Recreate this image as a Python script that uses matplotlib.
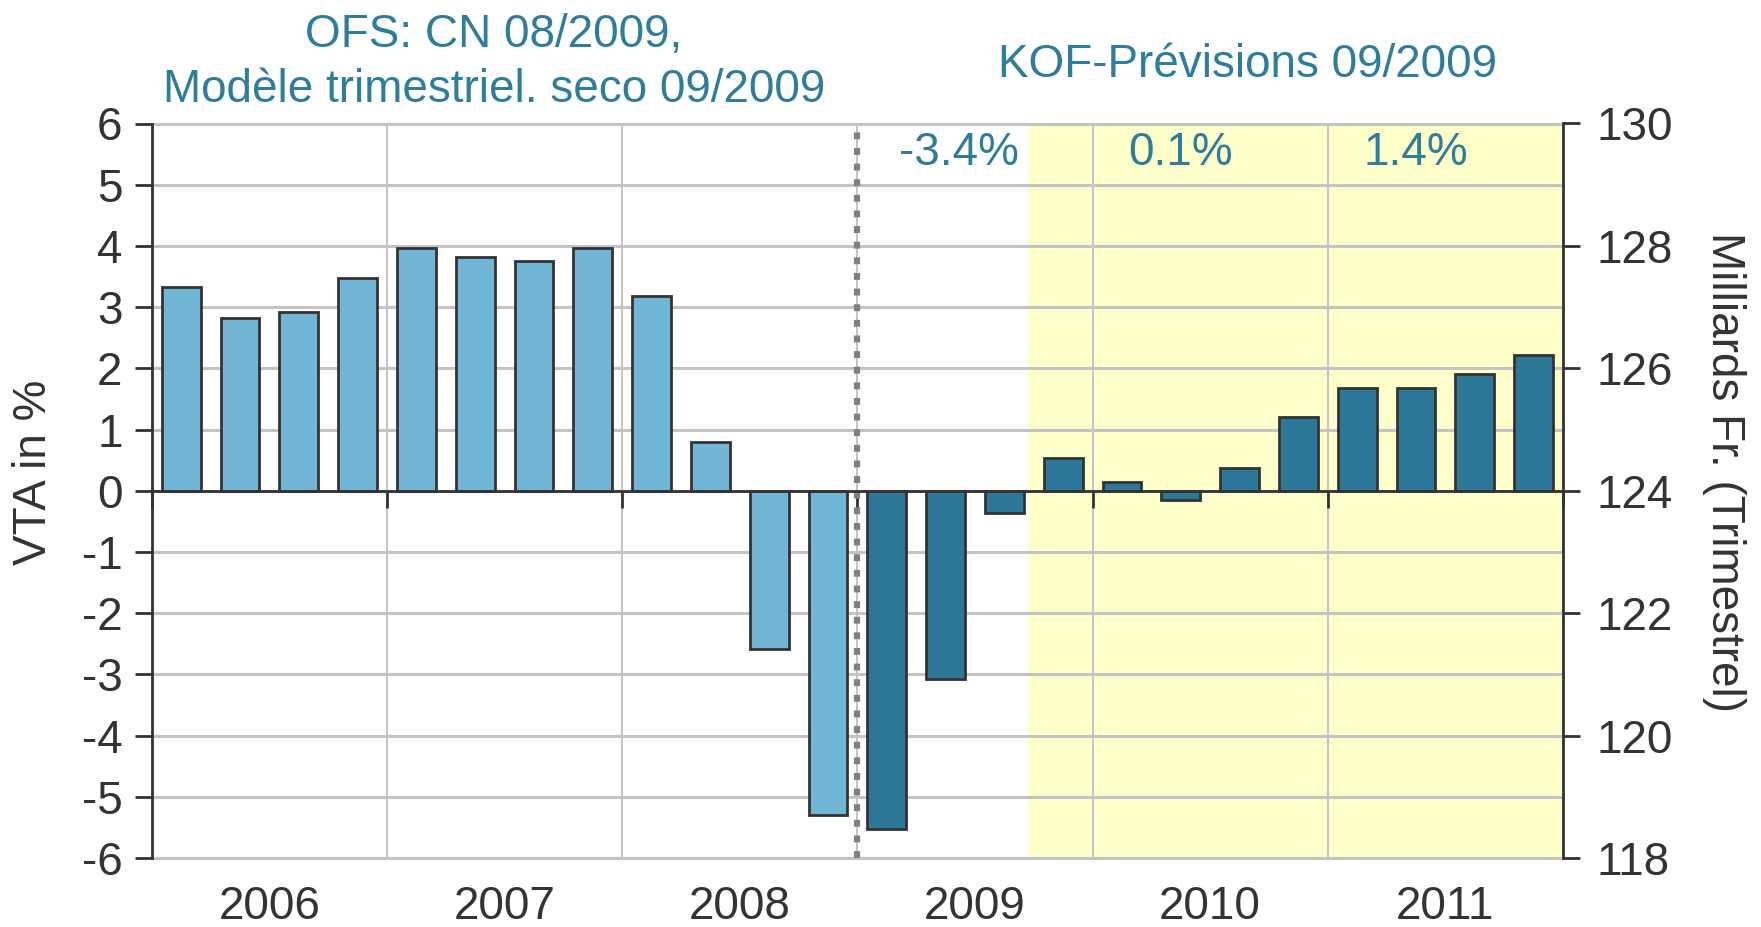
import matplotlib
matplotlib.use('Agg')
import matplotlib.pyplot as plt
import numpy as np

plt.rcParams['font.family'] = ['Liberation Sans', 'DejaVu Sans']

# VTA in % (quarterly, 2006 Q1 .. 2011 Q4)
vta_ofs = [3.33, 2.82, 2.92, 3.47, 3.96, 3.82, 3.76, 3.96, 3.18, 0.79, -2.59, -5.29]
vta_kof = [-5.53, -3.08, -0.37, 0.53, 0.14, -0.15, 0.37, 1.21, 1.68, 1.68, 1.90, 2.22]
years = ['2006', '2007', '2008', '2009', '2010', '2011']
annual_growth = ['-3.4%', '0.1%', '1.4%']
left_ticks = list(range(-6, 7))
right_ticks = list(range(118, 131, 2))

light = '#71b6d4'
dark = '#2d7898'
teal = '#2e7d9a'
ink = '#333333'
grid_c = '#c4c4c4'
fs = 33

W, H = 1761, 927
fig = plt.figure(figsize=(W / 100, H / 100), dpi=100)
ax = fig.add_axes([151.7 / W, 1 - 858 / H, (1563 - 151.7) / W, (858 - 123.5) / H])

n_ofs = len(vta_ofs)
x_ofs = np.arange(n_ofs) + 0.5
x_kof = np.arange(len(vta_kof)) + n_ofs + 0.5
n_all = n_ofs + len(vta_kof)

ax.axvspan(14.9, n_all, color='#ffffcc', lw=0, zorder=0.1)
ax.bar(x_ofs, vta_ofs, width=0.66, color=light, edgecolor=ink, linewidth=2, zorder=3)
ax.bar(x_kof, vta_kof, width=0.66, color=dark, edgecolor=ink, linewidth=2, zorder=3)
ax.axvline(n_ofs, color='#808080', lw=4.5, dashes=(1.1, 1.4), zorder=4)

ax.set_xlim(0, n_all)
ax.set_ylim(-6, 6)
ax.set_yticks(left_ticks)
ax.set_yticklabels([str(v) for v in left_ticks])
ax.set_xticks(np.arange(0, n_all + 1, 4))
ax.set_xticklabels([])
ax.set_axisbelow(True)
ax.grid(axis='y', color=grid_c, lw=2.2, zorder=0.5)
ax.grid(axis='x', color=grid_c, lw=1.4, zorder=0.5)
for gl in ax.yaxis.get_gridlines():
    gl.set_clip_on(False)

for s in ['top', 'right']:
    ax.spines[s].set_visible(False)
ax.spines['left'].set_color(ink)
ax.spines['left'].set_linewidth(2)
ax.spines['bottom'].set_position(('data', 0))
ax.spines['bottom'].set_color(ink)
ax.spines['bottom'].set_linewidth(2)
ax.spines['bottom'].set_zorder(5)
ax.tick_params(axis='y', length=12, width=2, color=ink, pad=9, labelsize=fs, labelcolor=ink)
ax.tick_params(axis='x', length=12, width=2, color=ink, direction='out')

for i, yr in enumerate(years):
    ax.text(4 * i + 2, -6.8, yr, ha='center', va='center', fontsize=fs, color=ink, clip_on=False)

for xpos, txt in zip([13.72, 17.5, 21.49], annual_growth):
    ax.text(xpos, 5.52, txt, ha='center', va='center', fontsize=fs, color=teal, zorder=6)

ax2 = ax.twinx()
ax2.set_ylim(118, 130)
ax2.set_yticks(right_ticks)
for s in ['top', 'left', 'bottom']:
    ax2.spines[s].set_visible(False)
ax2.spines['right'].set_color(ink)
ax2.spines['right'].set_linewidth(2)
ax2.tick_params(axis='y', length=12, width=2, color=ink, pad=12, labelsize=fs, labelcolor=ink)

fig.text(34 / W, 1 - 472 / H, 'VTA in %', rotation=90, ha='center', va='center',
         fontsize=fs, color=ink)
fig.text(1724 / W, 1 - 472 / H, 'Milliards Fr. (Trimestrel)', rotation=270, ha='center',
         va='center', fontsize=fs, color=ink)

fig.text(494 / W, 1 - 47 / H, 'OFS: CN 08/2009,', ha='center', va='baseline',
         fontsize=fs, color=teal)
fig.text(494 / W, 1 - 102 / H, 'Modèle trimestriel. seco 09/2009', ha='center',
         va='baseline', fontsize=fs, color=teal)
fig.text(1248 / W, 1 - 77 / H, 'KOF-Prévisions 09/2009', ha='center', va='baseline',
         fontsize=fs, color=teal)

fig.savefig('out.png', dpi=100)
